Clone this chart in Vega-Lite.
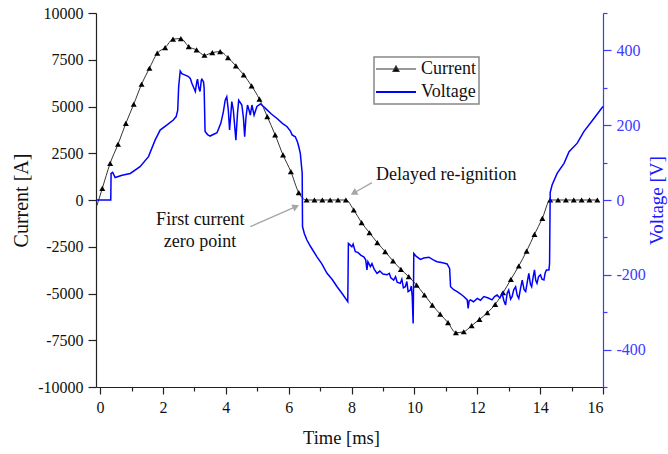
{
  "$schema": "https://vega.github.io/schema/vega-lite/v6.json",
  "width": 507,
  "height": 374,
  "autosize": {"type": "none"},
  "padding": {"left": 96, "top": 13, "right": 65, "bottom": 67},
  "background": "white",
  "config": {
    "view": {"stroke": null},
    "axis": {"grid": false, "labelFont": "Liberation Serif", "titleFont": "Liberation Serif", "labelFontSize": 16, "titleFontWeight": "normal", "domainWidth": 1.2, "tickWidth": 1.2, "labelColor": "#111", "titleColor": "#111", "domainColor": "#222", "tickColor": "#222", "labelOverlap": false}
  },
  "datasets": {
    "current": [
      {"t": -0.1, "I": -300},
      {"t": 0.07, "I": 620}, {"t": 0.32, "I": 1960}, {"t": 0.57, "I": 2980}, {"t": 0.82, "I": 4100},
      {"t": 1.07, "I": 5120}, {"t": 1.32, "I": 6190}, {"t": 1.57, "I": 7045}, {"t": 1.82, "I": 7850},
      {"t": 2.07, "I": 8150}, {"t": 2.32, "I": 8600}, {"t": 2.57, "I": 8630}, {"t": 2.82, "I": 8200},
      {"t": 3.07, "I": 8025}, {"t": 3.32, "I": 7740}, {"t": 3.57, "I": 7880}, {"t": 3.82, "I": 7935},
      {"t": 4.07, "I": 7610}, {"t": 4.32, "I": 7170}, {"t": 4.57, "I": 6690}, {"t": 4.82, "I": 6100},
      {"t": 5.07, "I": 5390}, {"t": 5.32, "I": 4460}, {"t": 5.57, "I": 3480}, {"t": 5.82, "I": 2410},
      {"t": 6.07, "I": 1515}, {"t": 6.32, "I": 390}, {"t": 6.57, "I": 0}, {"t": 6.82, "I": 0},
      {"t": 7.07, "I": 0}, {"t": 7.32, "I": 0}, {"t": 7.57, "I": 0}, {"t": 7.82, "I": 0},
      {"t": 8.07, "I": -535}, {"t": 8.32, "I": -1210}, {"t": 8.57, "I": -1750}, {"t": 8.82, "I": -2280},
      {"t": 9.07, "I": -2760}, {"t": 9.32, "I": -3260}, {"t": 9.57, "I": -3710}, {"t": 9.82, "I": -4100},
      {"t": 10.07, "I": -4550}, {"t": 10.32, "I": -5080}, {"t": 10.57, "I": -5620}, {"t": 10.82, "I": -6100},
      {"t": 11.07, "I": -6560}, {"t": 11.32, "I": -7100}, {"t": 11.57, "I": -7045}, {"t": 11.82, "I": -6720},
      {"t": 12.07, "I": -6385}, {"t": 12.32, "I": -6030}, {"t": 12.57, "I": -5580}, {"t": 12.82, "I": -4960},
      {"t": 13.07, "I": -4245}, {"t": 13.32, "I": -3530}, {"t": 13.57, "I": -2730}, {"t": 13.82, "I": -1835},
      {"t": 14.07, "I": -980}, {"t": 14.32, "I": 0}, {"t": 14.57, "I": 0}, {"t": 14.82, "I": 0},
      {"t": 15.07, "I": 0}, {"t": 15.32, "I": 0}, {"t": 15.57, "I": 0}, {"t": 15.82, "I": 0}
    ],
    "voltage": [
      {"t": -0.13, "V": 0}, {"t": 0.34, "V": 0}, {"t": 0.35, "V": 71}, {"t": 0.4, "V": 74}, {"t": 0.48, "V": 60},
      {"t": 0.7, "V": 66}, {"t": 0.96, "V": 71}, {"t": 1.27, "V": 89}, {"t": 1.54, "V": 116}, {"t": 1.75, "V": 160},
      {"t": 1.91, "V": 187}, {"t": 2.12, "V": 200}, {"t": 2.33, "V": 214}, {"t": 2.42, "V": 223}, {"t": 2.47, "V": 240},
      {"t": 2.5, "V": 303}, {"t": 2.55, "V": 345}, {"t": 2.6, "V": 338}, {"t": 2.71, "V": 334}, {"t": 2.81, "V": 330},
      {"t": 2.87, "V": 325}, {"t": 2.92, "V": 312}, {"t": 2.98, "V": 300}, {"t": 3.03, "V": 290}, {"t": 3.08, "V": 318},
      {"t": 3.1, "V": 323}, {"t": 3.14, "V": 300}, {"t": 3.18, "V": 290}, {"t": 3.22, "V": 320}, {"t": 3.24, "V": 323},
      {"t": 3.29, "V": 316}, {"t": 3.31, "V": 300}, {"t": 3.34, "V": 183}, {"t": 3.42, "V": 175}, {"t": 3.5, "V": 171},
      {"t": 3.6, "V": 175}, {"t": 3.72, "V": 180}, {"t": 3.84, "V": 205}, {"t": 3.92, "V": 235}, {"t": 3.98, "V": 267},
      {"t": 4.03, "V": 276}, {"t": 4.08, "V": 240}, {"t": 4.12, "V": 187}, {"t": 4.16, "V": 230}, {"t": 4.19, "V": 263},
      {"t": 4.24, "V": 240}, {"t": 4.32, "V": 160}, {"t": 4.37, "V": 230}, {"t": 4.41, "V": 267}, {"t": 4.51, "V": 254},
      {"t": 4.56, "V": 220}, {"t": 4.6, "V": 169}, {"t": 4.64, "V": 220}, {"t": 4.69, "V": 254}, {"t": 4.74, "V": 240},
      {"t": 4.78, "V": 227}, {"t": 4.83, "V": 254}, {"t": 4.9, "V": 227}, {"t": 4.99, "V": 250}, {"t": 5.1, "V": 257},
      {"t": 5.2, "V": 250}, {"t": 5.31, "V": 241}, {"t": 5.45, "V": 230}, {"t": 5.63, "V": 218}, {"t": 5.8, "V": 205},
      {"t": 5.95, "V": 196}, {"t": 6.05, "V": 185}, {"t": 6.11, "V": 174}, {"t": 6.21, "V": 169}, {"t": 6.28, "V": 155},
      {"t": 6.32, "V": 143}, {"t": 6.37, "V": 125}, {"t": 6.43, "V": 71}, {"t": 6.44, "V": -71}, {"t": 6.5, "V": -90},
      {"t": 6.58, "V": -107}, {"t": 6.7, "V": -125}, {"t": 6.9, "V": -152}, {"t": 7.05, "V": -170}, {"t": 7.22, "V": -196},
      {"t": 7.38, "V": -212}, {"t": 7.54, "V": -232}, {"t": 7.7, "V": -250}, {"t": 7.88, "V": -272}, {"t": 7.9, "V": -116},
      {"t": 7.95, "V": -120}, {"t": 8.01, "V": -125}, {"t": 8.05, "V": -118}, {"t": 8.12, "V": -138}, {"t": 8.2, "V": -140},
      {"t": 8.3, "V": -148}, {"t": 8.39, "V": -152}, {"t": 8.45, "V": -160}, {"t": 8.49, "V": -187}, {"t": 8.52, "V": -165},
      {"t": 8.6, "V": -178}, {"t": 8.65, "V": -170}, {"t": 8.72, "V": -185}, {"t": 8.81, "V": -196}, {"t": 8.9, "V": -190},
      {"t": 9.0, "V": -198}, {"t": 9.13, "V": -200}, {"t": 9.2, "V": -196}, {"t": 9.25, "V": -208}, {"t": 9.34, "V": -214},
      {"t": 9.4, "V": -205}, {"t": 9.45, "V": -220}, {"t": 9.55, "V": -223}, {"t": 9.6, "V": -212}, {"t": 9.65, "V": -235},
      {"t": 9.71, "V": -232}, {"t": 9.76, "V": -218}, {"t": 9.8, "V": -245}, {"t": 9.87, "V": -241}, {"t": 9.9, "V": -230},
      {"t": 9.93, "V": -258}, {"t": 9.96, "V": -330}, {"t": 9.97, "V": -250}, {"t": 9.98, "V": -143}, {"t": 10.05, "V": -150},
      {"t": 10.19, "V": -159}, {"t": 10.3, "V": -155}, {"t": 10.46, "V": -153}, {"t": 10.6, "V": -160}, {"t": 10.72, "V": -165},
      {"t": 10.9, "V": -168}, {"t": 11.04, "V": -171}, {"t": 11.12, "V": -183}, {"t": 11.15, "V": -232}, {"t": 11.25, "V": -240},
      {"t": 11.36, "V": -245}, {"t": 11.45, "V": -250}, {"t": 11.57, "V": -258}, {"t": 11.68, "V": -267}, {"t": 11.71, "V": -290},
      {"t": 11.74, "V": -270}, {"t": 11.78, "V": -267}, {"t": 11.88, "V": -272}, {"t": 12.0, "V": -263}, {"t": 12.1, "V": -268},
      {"t": 12.21, "V": -258}, {"t": 12.35, "V": -262}, {"t": 12.47, "V": -267}, {"t": 12.55, "V": -258}, {"t": 12.63, "V": -254},
      {"t": 12.72, "V": -262}, {"t": 12.79, "V": -250}, {"t": 12.85, "V": -270}, {"t": 12.9, "V": -281}, {"t": 12.95, "V": -250},
      {"t": 13.0, "V": -241}, {"t": 13.06, "V": -265}, {"t": 13.11, "V": -258}, {"t": 13.16, "V": -240}, {"t": 13.22, "V": -232},
      {"t": 13.27, "V": -255}, {"t": 13.32, "V": -263}, {"t": 13.38, "V": -235}, {"t": 13.43, "V": -214}, {"t": 13.49, "V": -240},
      {"t": 13.54, "V": -245}, {"t": 13.6, "V": -215}, {"t": 13.64, "V": -196}, {"t": 13.69, "V": -225}, {"t": 13.73, "V": -232},
      {"t": 13.78, "V": -205}, {"t": 13.82, "V": -187}, {"t": 13.86, "V": -215}, {"t": 13.9, "V": -223}, {"t": 13.95, "V": -205},
      {"t": 14.01, "V": -200}, {"t": 14.06, "V": -212}, {"t": 14.12, "V": -214}, {"t": 14.16, "V": -195}, {"t": 14.2, "V": -187},
      {"t": 14.28, "V": -187}, {"t": 14.3, "V": -170}, {"t": 14.32, "V": 20}, {"t": 14.38, "V": 40}, {"t": 14.54, "V": 71},
      {"t": 14.76, "V": 98}, {"t": 14.92, "V": 129}, {"t": 15.18, "V": 152}, {"t": 15.39, "V": 183}, {"t": 15.71, "V": 218},
      {"t": 15.98, "V": 248}, {"t": 16.0, "V": 250}
    ],
    "notes": [
      {"t": 8.78, "I": 1340, "label": "Delayed re-ignition", "side": "left"},
      {"t": 3.19, "I": -1070, "label": "First current", "side": "center"},
      {"t": 3.18, "I": -2230, "label": "zero point", "side": "center"}
    ],
    "arrows": [
      {"arrow": "delayed", "part": "tail", "t": 8.65, "I": 926},
      {"arrow": "delayed", "part": "head", "t": 8.07, "I": 374},
      {"arrow": "zero", "part": "tail", "t": 4.78, "I": -1428},
      {"arrow": "zero", "part": "head", "t": 6.23, "I": -353}
    ]
  },
  "encoding": {
    "x": {
      "field": "t", "type": "quantitative",
      "scale": {"domain": [-0.13, 16], "nice": false, "zero": false},
      "axis": {
        "title": "Time [ms]", "titleFontSize": 18.5, "titlePadding": 13, "titleX": 245,
        "values": [0,1,2,3,4,5,6,7,8,9,10,11,12,13,14,15,16],
        "labelExpr": "datum.value % 2 === 0 ? '' + datum.value : ''",
        "tickSize": {"condition": {"test": "datum.value % 2 === 0", "value": 7}, "value": 4},
        "labelPadding": 5
      }
    }
  },
  "layer": [
    {
      "layer": [
        {
          "data": {"name": "current"},
          "mark": {"type": "line", "strokeWidth": 1, "interpolate": "monotone"},
          "encoding": {
            "y": {
              "field": "I", "type": "quantitative",
              "scale": {"domain": [-10000, 10000], "nice": false},
              "axis": {
                "orient": "left", "title": "Current [A]", "titleFontSize": 20, "titlePadding": 6,
                "values": [-10000,-8750,-7500,-6250,-5000,-3750,-2500,-1250,0,1250,2500,3750,5000,6250,7500,8750,10000],
                "labelExpr": "datum.value % 2500 === 0 ? '' + datum.value : ''",
                "tickSize": {"condition": {"test": "datum.value % 2500 === 0", "value": 8}, "value": 4},
                "labelPadding": 5
              }
            },
            "color": {
              "datum": "Current", "type": "nominal",
              "scale": {"domain": ["Current", "Voltage"], "range": ["#333333", "#0000ff"]},
              "legend": {
                "orient": "none", "legendX": 278, "legendY": 44, "title": null, "direction": "vertical",
                "strokeColor": "#888888", "fillColor": "white", "padding": 3, "rowPadding": 5,
                "labelFont": "Liberation Serif", "labelFontSize": 18, "labelColor": "#111", "labelOffset": 26,
                "symbolSize": 400, "symbolStrokeWidth": 1.5,
                "encode": {
                  "legend": {"update": {"strokeWidth": {"value": 1.5}}},
                  "symbols": {"update": {
                    "shape": {"signal": "datum.value === 'Current' ? 'M-1,0H3M0.7,0.25L1,-0.3L1.3,0.25Z' : 'M-1,0H3'"},
                    "fill": {"signal": "datum.value === 'Current' ? '#000000' : 'transparent'"},
                    "strokeWidth": {"signal": "datum.value === 'Current' ? 1.2 : 2"}
                  }}
                }
              }
            }
          }
        },
        {
          "data": {"name": "current"},
          "transform": [{"filter": "datum.t >= 0"}],
          "mark": {"type": "point", "shape": "triangle-up", "filled": true, "color": "#000000", "size": 36, "opacity": 1},
          "encoding": {"y": {"field": "I", "type": "quantitative"}}
        },
        {
          "data": {"name": "arrows"},
          "mark": {"type": "line", "color": "#a6a6a6", "strokeWidth": 1.4},
          "encoding": {"y": {"field": "I", "type": "quantitative"}, "detail": {"field": "arrow"}}
        },
        {
          "data": {"name": "arrows"},
          "transform": [{"filter": "datum.part === 'head'"}],
          "mark": {"type": "point", "shape": "triangle-up", "filled": true, "color": "#a6a6a6", "size": 60, "opacity": 1},
          "encoding": {
            "y": {"field": "I", "type": "quantitative"},
            "angle": {"condition": {"test": "datum.arrow === 'delayed'", "value": 240.5}, "value": 66}
          }
        },
        {
          "data": {"name": "notes"},
          "transform": [{"filter": "datum.side === 'left'"}],
          "mark": {"type": "text", "font": "Liberation Serif", "fontSize": 18, "align": "left", "baseline": "middle", "color": "#111"},
          "encoding": {"y": {"field": "I", "type": "quantitative"}, "text": {"field": "label"}}
        },
        {
          "data": {"name": "notes"},
          "transform": [{"filter": "datum.side === 'center'"}],
          "mark": {"type": "text", "font": "Liberation Serif", "fontSize": 18, "align": "center", "baseline": "middle", "color": "#111"},
          "encoding": {"y": {"field": "I", "type": "quantitative"}, "text": {"field": "label"}}
        }
      ]
    },
    {
      "data": {"name": "voltage"},
      "mark": {"type": "line", "strokeWidth": 1.5},
      "encoding": {
        "y": {
          "field": "V", "type": "quantitative",
          "scale": {"domain": [-500, 500], "nice": false},
          "axis": {
            "orient": "right", "title": "Voltage [V]", "titleFontSize": 19, "titleAngle": 270, "titleBaseline": "top", "titlePadding": 2,
            "titleColor": "#1a1aff", "labelColor": "#3b3bff", "domainColor": "#3b3bff", "tickColor": "#3b3bff",
            "values": [-500,-400,-300,-200,-100,0,100,200,300,400,500],
            "labelExpr": "datum.value % 200 === 0 ? '' + datum.value : ''",
            "tickSize": {"condition": {"test": "datum.value % 200 === 0", "value": 8}, "value": 4},
            "labelPadding": 5
          }
        },
        "color": {"datum": "Voltage", "type": "nominal"}
      }
    }
  ],
  "resolve": {"scale": {"y": "independent"}}
}
